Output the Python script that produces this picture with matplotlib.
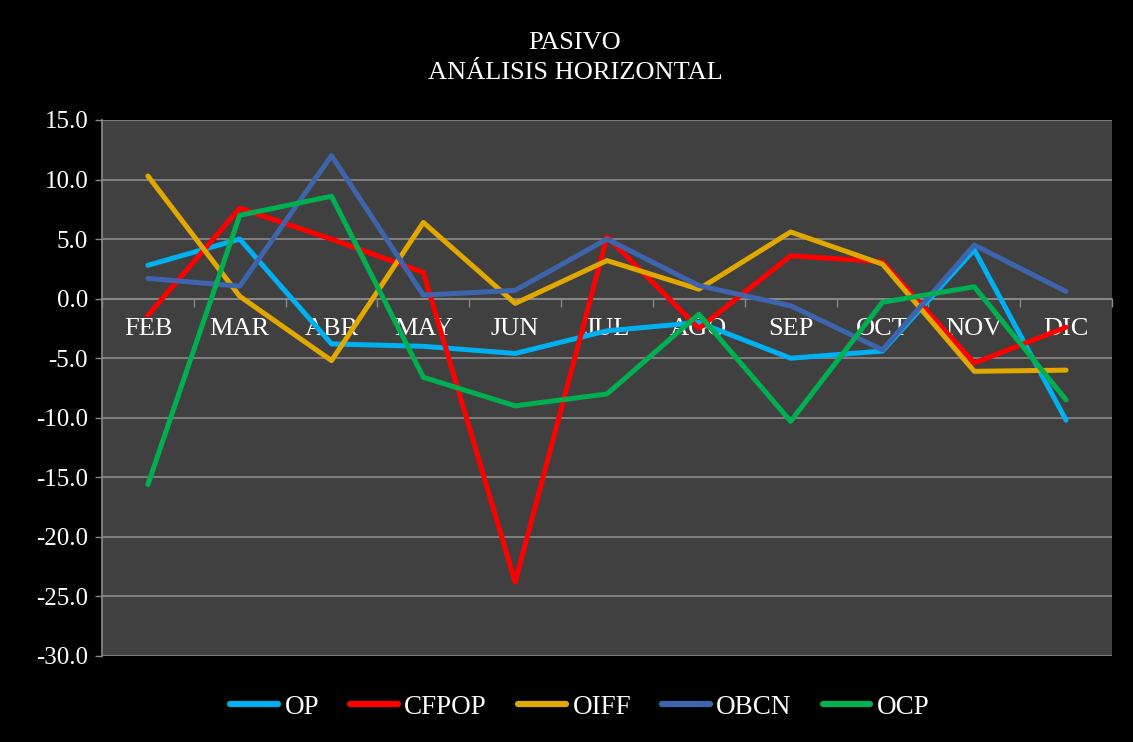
import matplotlib
matplotlib.use("Agg")
import matplotlib.pyplot as plt
from matplotlib.ticker import FixedLocator, FuncFormatter

plt.rcParams['font.family'] = ['Liberation Serif', 'DejaVu Serif']

months = ["FEB", "MAR", "ABR", "MAY", "JUN", "JUL", "AGO", "SEP", "OCT", "NOV", "DIC"]
op    = [2.8, 5.0, -3.8, -4.0, -4.6, -2.7, -2.0, -5.0, -4.4, 4.1, -10.2]
cfpop = [-1.4, 7.6, 5.0, 2.2, -23.8, 5.2, -2.5, 3.6, 3.1, -5.4, -2.4]
oiff  = [10.3, 0.2, -5.2, 6.4, -0.4, 3.2, 0.8, 5.6, 2.9, -6.1, -6.0]
obcn  = [1.7, 1.05, 12.0, 0.3, 0.7, 5.0, 1.1, -0.6, -4.3, 4.5, 0.6]
ocp   = [-15.6, 7.0, 8.6, -6.6, -9.0, -8.0, -1.3, -10.3, -0.3, 1.0, -8.5]

series = [("OP", op, "#00B0F0"), ("CFPOP", cfpop, "#FF0000"),
          ("OIFF", oiff, "#E0A800"), ("OBCN", obcn, "#3E64AE"),
          ("OCP", ocp, "#00B050")]

fig = plt.figure(figsize=(11.33, 7.42), dpi=100, facecolor="black")
ax = fig.add_axes([102/1133, 1-656/742, 1010/1133, 536/742])
ax.set_facecolor("#404040")

x = list(range(len(months)))
handles = []
for name, vals, col in series:
    h, = ax.plot(x, vals, color=col, lw=3.6, solid_capstyle="round",
                 solid_joinstyle="round", label=name, zorder=3)
    handles.append(h)

ax.set_xlim(-0.5, len(months) - 0.5)
ax.set_ylim(-30, 15)
ax.yaxis.set_major_locator(FixedLocator([-30, -25, -20, -15, -10, -5, 0, 5, 10, 15]))
ax.yaxis.set_major_formatter(FuncFormatter(lambda v, p: f"{v:.1f}"))
ax.grid(axis="y", color="#8a8a8a", lw=1.2, zorder=1)
ax.tick_params(axis="y", colors="#8a8a8a", labelcolor="white", labelsize=18,
               length=5, width=1, pad=5)

for s in ["top", "right"]:
    ax.spines[s].set_visible(False)
ax.spines["left"].set_color("#8a8a8a")
ax.spines["left"].set_linewidth(1.2)
ax.spines["bottom"].set_position(("data", 0))
ax.spines["bottom"].set_color("#8a8a8a")
ax.spines["bottom"].set_linewidth(1.2)

ax.set_xticks(x)
ax.set_xticklabels(months)
ax.set_xticks([i - 0.5 for i in range(len(months) + 1)], minor=True)
ax.tick_params(axis="x", which="major", length=0, labelcolor="white",
               labelsize=19, pad=14)
ax.tick_params(axis="x", which="minor", length=6, color="#8a8a8a", width=1,
               direction="out")

fig.text(575/1133, 1-43/742, "PASIVO", color="white", fontsize=19,
         ha="center", va="center")
fig.text(575/1133, 1-73/742, "ANÁLISIS HORIZONTAL", color="white", fontsize=19,
         ha="center", va="center")

leg = fig.legend(handles=handles, loc="center", bbox_to_anchor=(580/1133, 1-707/742),
                 ncol=5, frameon=False, fontsize=19.5, handlelength=1.75,
                 handletextpad=0.25, columnspacing=1.15)
for t in leg.get_texts():
    t.set_color("white")
for l in leg.get_lines():
    l.set_linewidth(4.5)
    l.set_solid_capstyle("round")

fig.savefig("out.png", dpi=100, facecolor="black")
